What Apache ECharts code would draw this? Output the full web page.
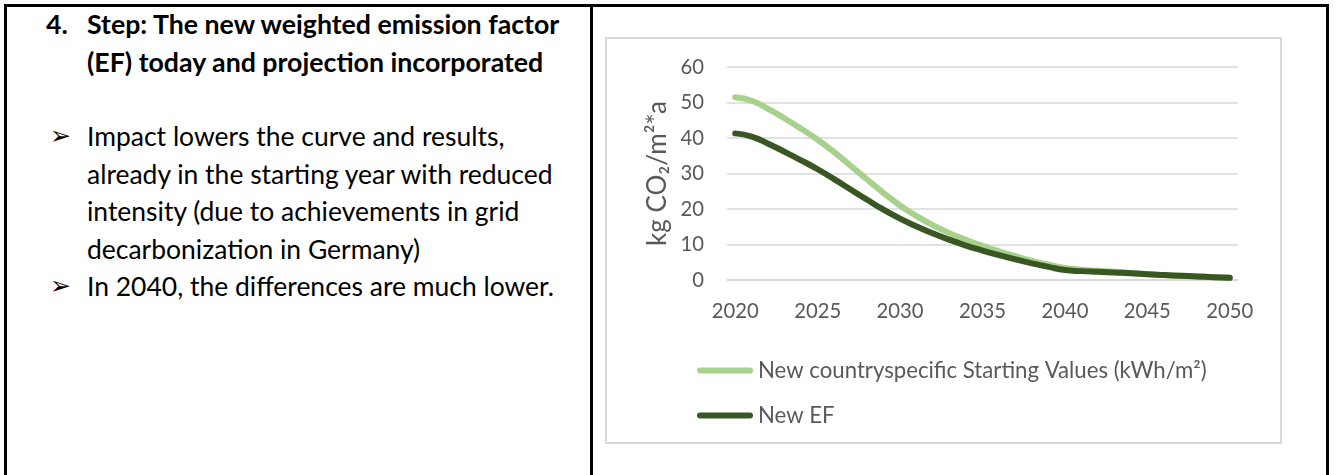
<!DOCTYPE html>
<html>
<head>
<meta charset="utf-8">
<title>Weighted emission factor</title>
<script src="https://cdn.jsdelivr.net/npm/echarts@6/dist/echarts.min.js"></script>
<style>
  body { margin: 0; width: 1336px; height: 475px; overflow: hidden; background: #fff; font-family: Lato, "Noto Sans", sans-serif; color: #000; }
  .frame { position: absolute; left: 4px; top: 4px; width: 1325px; height: 520px; border: 3px solid #000; box-sizing: border-box; }
  .divider { position: absolute; left: 590px; top: 4px; width: 3px; height: 480px; background: #000; }
  .chartbox { position: absolute; left: 605px; top: 37px; width: 677px; height: 407px; border: 2px solid #d9d9d9; box-sizing: border-box; }
  .txt { position: absolute; line-height: 37.5px; white-space: nowrap; }
  .bold { font-weight: bold; }
  .arrow { position: absolute; line-height: 37.5px; font-family: "DejaVu Sans", sans-serif; font-size: 25px; }
  #chart { position: absolute; left: 0; top: 0; width: 1336px; height: 475px; }
</style>
</head>
<body>
<div class="frame"></div>
<div class="divider"></div>
<div class="chartbox"></div>

<div class="txt bold head" style="left:46px; top:6px;">4.</div>
<div class="txt bold head" style="left:87px; top:6px;">Step: The new weighted emission factor<br>(EF) today and projection incorporated</div>

<div class="arrow" style="left:50px; top:117px;">&#10146;</div>
<div class="txt body" style="left:87px; top:118px;">Impact lowers the curve and results,<br>already in the starting year with reduced<br>intensity (due to achievements in grid<br>decarbonization in Germany)</div>
<div class="arrow" style="left:50px; top:267px;">&#10146;</div>
<div class="txt body" style="left:87px; top:268px;">In 2040, the differences are much lower.</div>

<div id="chart"></div>

<script>
// years on the category axis
var years = ['2020','2021','2022','2023','2024','2025','2026','2027','2028','2029',
             '2030','2031','2032','2033','2034','2035','2036','2037','2038','2039',
             '2040','2041','2042','2043','2044','2045','2046','2047','2048','2049','2050'];

// kg CO2/m2*a
var startingValues = [51.5, 50.5, 48.2, 45.5, 42.6, 39.5, 36.0, 32.2, 28.3, 24.5,
                      21.0, 18.0, 15.4, 13.2, 11.3, 9.6, 8.1, 6.7, 5.4, 4.3,
                      3.4, 2.9, 2.6, 2.3, 2.0, 1.7, 1.4, 1.2, 1.0, 0.8, 0.6];
var newEF = [41.3, 40.4, 38.4, 36.1, 33.7, 31.2, 28.4, 25.5, 22.6, 19.8,
             17.3, 15.1, 13.1, 11.3, 9.7, 8.3, 7.0, 5.8, 4.7, 3.7,
             2.8, 2.5, 2.3, 2.1, 1.9, 1.6, 1.4, 1.2, 1.0, 0.8, 0.6];

var seriesNames = ['New countryspecific Starting Values (kWh/m\u00b2)', 'New EF'];
var lineColors = ['#a9d18e', '#385723'];
var yName = 'kg CO\u2082/m\u00b2*a';

// pick a font size so a text gets the width it has in the picture
var measureCtx = document.createElement('canvas').getContext('2d');
function fitSize(text, width, weight) {
  measureCtx.font = (weight || 'normal') + ' 100px Lato';
  return 100 * width / measureCtx.measureText(text).width;
}

var bodySize = fitSize('already in the starting year with reduced', 468);
var headSize = fitSize('(EF) today and projection incorporated', 457, 'bold');
document.querySelectorAll('.body').forEach(function (el) { el.style.fontSize = bodySize + 'px'; });
document.querySelectorAll('.head').forEach(function (el) { el.style.fontSize = headSize + 'px'; });

var labelSize = fitSize('2020', 47);
var legendSize = fitSize(seriesNames[0], 449);
var nameSize = fitSize(yName, 145);

var chart = echarts.init(document.getElementById('chart'));

var legendIcon = 'path://M3,0 L53,0 A3,3 0 0 1 53,6 L3,6 A3,3 0 0 1 3,0 Z';

var option = {
  animation: false,
  textStyle: { fontFamily: 'Lato' },
  grid: { left: 727, right: 98, top: 67, bottom: 195 },
  legend: {
    orient: 'vertical',
    left: 692,
    top: 365 - Math.round(legendSize * 0.6),
    itemWidth: 56,
    itemHeight: 6,
    itemGap: 45 - Math.round(legendSize * 1.2),
    icon: legendIcon,
    textStyle: { fontSize: legendSize, color: '#595959', fontFamily: 'Lato', lineHeight: Math.round(legendSize * 1.2) },
    data: seriesNames
  },
  xAxis: {
    type: 'category',
    data: years,
    boundaryGap: true,
    axisTick: { show: false },
    axisLine: { lineStyle: { color: '#d9d9d9', width: 1.5 } },
    axisLabel: { interval: 4, color: '#595959', fontSize: labelSize, margin: 21 }
  },
  yAxis: {
    type: 'value',
    min: 0,
    max: 60,
    interval: 10,
    name: yName,
    nameLocation: 'middle',
    nameRotate: 90,
    nameGap: 69 - nameSize / 2,
    nameTextStyle: { fontSize: nameSize, color: '#595959' },
    axisLabel: { color: '#595959', fontSize: labelSize, margin: 23 },
    splitLine: { lineStyle: { color: '#d9d9d9', width: 1.5 } }
  },
  series: [
    {
      name: seriesNames[0],
      type: 'line',
      data: startingValues,
      smooth: true,
      showSymbol: false,
      lineStyle: { width: 6, color: lineColors[0], cap: 'round' },
      itemStyle: { color: lineColors[0] }
    },
    {
      name: seriesNames[1],
      type: 'line',
      data: newEF,
      smooth: true,
      showSymbol: false,
      lineStyle: { width: 6, color: lineColors[1], cap: 'round' },
      itemStyle: { color: lineColors[1] }
    }
  ]
};

chart.setOption(option);
window.addEventListener('resize', chart.resize);
</script>
</body>
</html>
